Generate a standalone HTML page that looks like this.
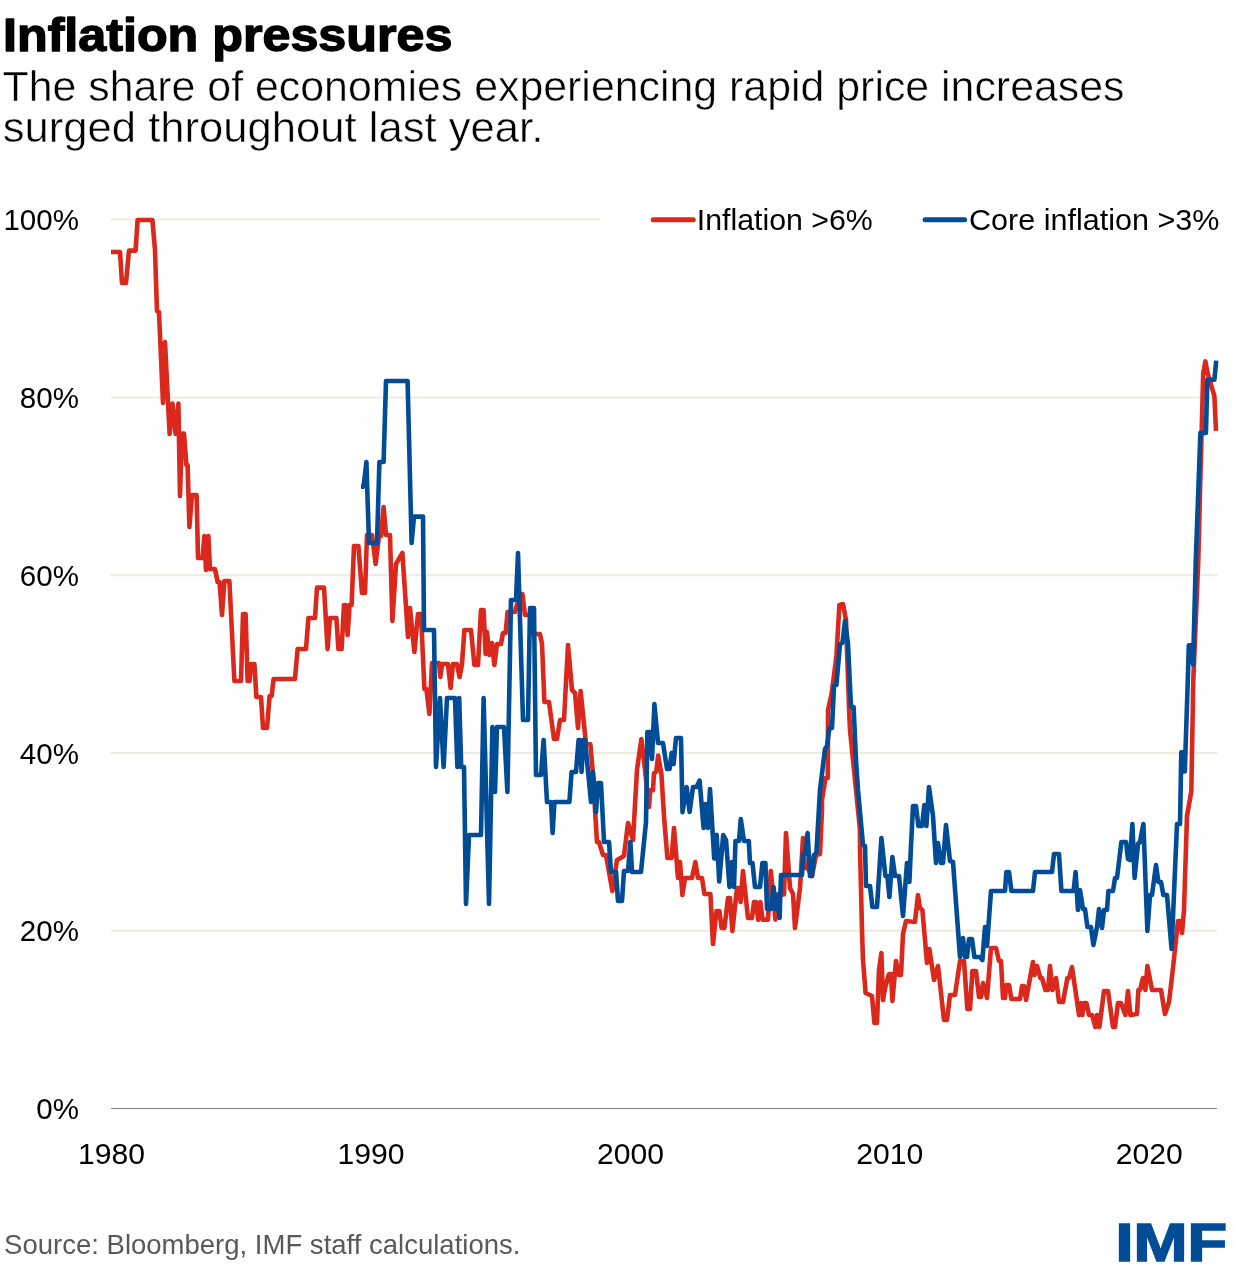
<!DOCTYPE html>
<html lang="en"><head><meta charset="utf-8"><title>Inflation pressures</title>
<style>
html,body{margin:0;padding:0;background:#fff;}
body{width:1235px;height:1283px;overflow:hidden;font-family:"Liberation Sans",sans-serif;}
svg{display:block;}
text{font-family:"Liberation Sans",sans-serif;}
.t{font-weight:700;font-size:46.9px;fill:#000;stroke:#000;stroke-width:1.4px;stroke-linejoin:round;}
.s{font-size:41.6px;fill:#000;stroke:#fff;stroke-width:0.5px;}
.a{font-size:29.5px;fill:#000;}
.src{font-size:27.6px;fill:#595959;}
.imf{font-weight:700;font-size:53.8px;fill:#004c97;stroke:#004c97;stroke-width:1.6px;}
.g{stroke:#edebe0;stroke-width:2.1;}
.ln{fill:none;stroke-width:4.6;stroke-linejoin:round;stroke-linecap:butt;}
</style></head><body>
<svg width="1235" height="1283" viewBox="0 0 1235 1283">
<rect width="1235" height="1283" fill="#fff"/>
<text class="t" x="3.0" y="51.4" textLength="449.4" lengthAdjust="spacingAndGlyphs">Inflation pressures</text>
<text class="s" x="2.5" y="100.9" textLength="1122" lengthAdjust="spacingAndGlyphs">The share of economies experiencing rapid price increases</text>
<text class="s" x="2.8" y="141.5" textLength="540.5" lengthAdjust="spacingAndGlyphs">surged throughout last year.</text>

<line class="g" x1="111" x2="600" y1="219.5" y2="219.5"/>
<text class="a" x="78.9" y="230.0" text-anchor="end">100%</text>
<line class="g" x1="111" x2="1217" y1="397.5" y2="397.5"/>
<text class="a" x="78.9" y="408.0" text-anchor="end">80%</text>
<line class="g" x1="111" x2="1217" y1="575.2" y2="575.2"/>
<text class="a" x="78.9" y="585.7" text-anchor="end">60%</text>
<line class="g" x1="111" x2="1217" y1="753" y2="753"/>
<text class="a" x="78.9" y="763.5" text-anchor="end">40%</text>
<line class="g" x1="111" x2="1217" y1="930.8" y2="930.8"/>
<text class="a" x="78.9" y="941.3" text-anchor="end">20%</text>
<line x1="111" x2="1217" y1="1108.5" y2="1108.5" stroke="#808080" stroke-width="1.1"/>
<text class="a" x="78.9" y="1119.0" text-anchor="end">0%</text>
<text class="a" x="78.1" y="1164" textLength="67" lengthAdjust="spacingAndGlyphs">1980</text>
<text class="a" x="337.5" y="1164" textLength="67" lengthAdjust="spacingAndGlyphs">1990</text>
<text class="a" x="596.9" y="1164" textLength="67" lengthAdjust="spacingAndGlyphs">2000</text>
<text class="a" x="856.3" y="1164" textLength="67" lengthAdjust="spacingAndGlyphs">2010</text>
<text class="a" x="1115.7" y="1164" textLength="67" lengthAdjust="spacingAndGlyphs">2020</text>
<path class="ln" stroke="#da291c" d="M111,252 L120,252 L122,283 L126,283 L129,250.6 L135.6,250.6 L137.6,220 L152.4,220 L155,250 L157,311 L159,312 L163,403 L165,342 L169.6,434 L172.4,403.6 L175.6,434 L178.4,403.6 L180,496 L182,433.6 L184,433.6 L186.4,465 L187.6,465 L189.4,527 L192,495 L196.6,495 L198,558 L202.6,558 L204.4,536 L206,570 L208.4,536 L210,569 L215,569 L217.6,582 L219.6,582 L222,615 L224.4,581 L229.4,581 L234.4,681 L241,681 L243,614 L245.6,614 L247.6,681 L249.6,681 L251,664 L254.4,664 L256.4,697 L261,697 L263,728 L267,728 L269.6,696 L271.6,696 L273.6,679 L295,679 L297.6,649 L306,649 L308.4,618 L315,618 L317,587.6 L324,587.6 L327.6,649 L330,618 L336.4,618 L338.4,649 L341.6,649 L344,605 L345.6,605 L347.6,635 L349.6,605 L351.6,605 L354,546 L358.4,546 L362,593 L365,593 L367,535 L372,535 L375.6,564 L379,536 L381,536 L383.6,507 L386,535 L390,535 L392.4,621 L396,564 L402.4,553 L408,637 L410,608 L414.4,652 L418,614 L421,614 L424.4,689 L426.4,689 L429.4,714 L432,663 L439,663 L440.4,677 L442,664 L448,664 L450.6,688 L453,664 L457,664 L459.6,677 L462,664 L464.4,630 L471,630 L474.4,665 L478,665 L481,610 L483.6,610 L485.6,654 L487,632 L489.4,655 L492,643 L494.4,665 L497,644 L501,644 L503,633 L505.6,633 L507.6,612 L515,612 L517,604 L519,604 L522.4,594 L525,615 L530,615 L532,634 L540,634 L542,644 L544.4,702 L549,702 L554,739 L557,739 L560,720 L564,720 L568,645 L572,690 L575,693 L578,728 L580.6,691 L586,744 L590.4,744.4 L592.6,770 L597,842 L599,842 L603,855 L606,855 L612.4,891 L617,860 L624,856 L628,823 L633,840 L637,770 L641.4,739 L645,770 L649,807 L650.2,790.2 L653,790.2 L654,773 L656.2,772 L658.2,755.6 L661.4,774 L664,816 L667.4,858 L671.6,858 L674,828 L678,878 L680,862 L682.4,895 L685,878 L692,878 L695.4,862 L698,878 L702,878 L704.4,894 L710.4,894 L713,944 L716.4,911 L719.4,911 L721.6,928 L724.4,928 L728,898 L730,898 L732.4,931 L737,888 L739,888 L740.6,902 L743,871 L748,918 L752,918 L754,902 L756,902 L758.2,919.6 L760.4,902 L762.6,919.6 L768,919.6 L770.8,871 L775.4,919.6 L777.4,894.4 L784,894.4 L786,833 L790,888 L793,894 L795,928 L800,888 L803,838 L805,868 L807.6,868 L812,876 L816,855 L820,854 L822,810 L822,800 L825.6,778 L827.8,778 L828,710 L831.6,694 L836.4,656 L839.4,605 L843,604 L846,620 L849,708 L850,730 L854,770 L860,830 L860,848 L862,930 L863,960 L865.6,993 L872,996 L874.4,1023 L877,1023 L879,970 L881.4,953 L883,1000 L885,988 L889,974 L891,974 L892.4,1001 L896,961 L899,975 L901,975 L903,934 L906,921 L915,922 L918,895 L920,908 L922.4,910 L927,963 L929.4,949 L934,980 L938,966 L944,1020 L947,1020 L950,995 L955,995 L960,961 L964,961 L967.4,1009 L970,1009 L972.4,971 L976,971 L979,997 L981,997 L983,983 L987,998 L991,948 L996,948 L999,961 L1001,961 L1003,998 L1005,998 L1006.4,985 L1009,985 L1011.4,999 L1020,999 L1022,986 L1024,986 L1026,1000 L1033,962 L1034.4,975 L1037,966 L1040.4,978 L1042,978 L1045.4,990 L1048,990 L1050,966 L1052.4,990 L1056,978 L1059,1002 L1063,1002 L1067.4,978 L1069,978 L1072,967 L1079,1015 L1081,1003 L1082.4,1015 L1084,1003 L1086.4,1003 L1089,1015 L1092,1015 L1095.4,1027 L1097,1015 L1099.4,1027 L1104,991 L1108,991 L1113,1027 L1115,1027 L1118,1003 L1121,1003 L1125.4,1015 L1128,991 L1130.4,1015 L1137,1014 L1138.4,990 L1140,990 L1143,978 L1145.4,990 L1147.4,966 L1152,990 L1161,990 L1165,1014 L1169,1002 L1173,968 L1178,921 L1180.4,921 L1182,933 L1184,910 L1187,816 L1191.3,791.4 L1193.3,680 L1198.3,560 L1200.6,468.5 L1201.7,430.4 L1203.2,373.1 L1205.4,361.4 L1207.6,373.1 L1214.4,396.2 L1216,430.9"/>
<path class="ln" stroke="#004c97" d="M361,486.6 L363.6,486.6 L366.4,462 L369,543 L377,543 L379.4,462 L383.6,462 L386,381 L407.6,381 L411.6,543 L414,516.6 L423,516.6 L424,630 L434,630 L436,767 L440,698 L443.6,767 L447,698 L455,698 L457.4,767 L459.2,698 L461.2,767 L464,767 L466,904 L469,835 L481,835 L483.6,698 L489,904 L492.4,727 L495,792 L497,727 L504,727 L507.4,792 L511,600 L516,600 L518,553 L523,720 L528,720 L530,608 L534,608 L536,775 L541,775 L543.6,740 L547,802 L551,802 L552.6,833 L554.4,802 L569.4,802 L571.6,772 L576,772 L578.6,740 L580,740 L581.6,772 L583.2,740 L585,740 L591,802 L593,772 L596,812 L598,783 L601,783 L604,842 L609,842 L611,872 L616,872 L618,901 L622,901 L624,871 L628,871 L630.4,842 L632,872 L641,872 L646,822 L647.4,732 L650,732 L652,759 L654.4,704 L658,743 L663,743 L667,769 L669.6,769 L671.6,753 L673.6,764 L676,738 L681,738 L682.5,812.2 L686.6,787 L689.6,812 L693,787 L696.6,787 L699.6,780.6 L703.6,828 L705.6,804 L708,828 L710,789 L714.2,858.4 L716.7,834.8 L719.2,881.5 L723.2,835 L726,840 L729.5,887 L732,862 L734,887 L735.5,841 L739,841 L740.8,819 L744,841 L748.8,841 L750,863 L752.5,863 L755,887 L760,887 L762.4,863 L765.4,863 L767,909 L771,909 L773.6,887 L775.6,909 L777.6,896 L779.6,918 L781,875 L802,875 L803,854 L805.5,854 L807.6,833 L810,876 L812,876 L814,855 L816.4,853 L820,790 L825,749 L827,746 L829.4,728 L832,728 L834,686 L836.4,685 L840,644 L842.4,643 L845,621 L848,644 L851,707 L853.6,707 L856,760 L858,790 L863,845 L865,846 L866,886 L870,886 L872.4,907 L877,907 L881.4,838 L885.4,876 L887.4,876 L889.4,897 L892.4,857 L895,876 L899,876 L903,916 L907,863 L909.4,882 L911,846 L913,806 L916,806 L918.4,826 L922,826 L924.4,805 L926.4,826 L929,787 L933,816 L936,863 L938,843 L941,863 L943,863 L946,825 L950,861 L953,862 L960,957 L963,938 L965,957 L967,957 L969,939 L972,939 L974.4,957 L980,957 L982.4,960 L985,927 L987,946 L991,891 L1005,891 L1006.4,872 L1009,872 L1011.4,891 L1033,891 L1035,872 L1052,872 L1054,854 L1059,854 L1061.4,891 L1073.6,891 L1075.6,872 L1078,910 L1080,890 L1083,909 L1085,909 L1087.4,927 L1091,927 L1093.4,945 L1097,927 L1099,909 L1102,928 L1104,910 L1107,910 L1108.4,891 L1113,891 L1115,878 L1117,878 L1121.4,842 L1126,842 L1128,859 L1130,860 L1132.4,824 L1134.6,878 L1138,844 L1140,842 L1143.4,824 L1147.4,931 L1150,895 L1152,895 L1156,865 L1158.4,882 L1161,882 L1163.4,895 L1167,895 L1171.6,949 L1177,824 L1180,824 L1180.3,808.5 L1181.3,752.3 L1182.8,752.3 L1184.8,771.4 L1187.8,680 L1188.8,645.3 L1190.5,645.3 L1193.1,664.4 L1195.8,560 L1200.4,432.9 L1205.9,432.9 L1207.4,379.7 L1214.4,379.7 L1216.2,360.6"/>
<line x1="653.2" x2="693.3" y1="219.7" y2="219.7" stroke="#da291c" stroke-width="5" stroke-linecap="round"/>
<text class="a" x="696.8" y="230" textLength="176" lengthAdjust="spacingAndGlyphs">Inflation &gt;6%</text>
<line x1="925.1" x2="964.6" y1="219.7" y2="219.7" stroke="#004c97" stroke-width="5" stroke-linecap="round"/>
<text class="a" x="969" y="230" textLength="250.5" lengthAdjust="spacingAndGlyphs">Core inflation &gt;3%</text>
<text class="src" x="4.1" y="1253.9" textLength="516.3" lengthAdjust="spacingAndGlyphs">Source: Bloomberg, IMF staff calculations.</text>
<text class="imf" x="1115.5" y="1261.2" textLength="111.5" lengthAdjust="spacingAndGlyphs">IMF</text>
</svg></body></html>
